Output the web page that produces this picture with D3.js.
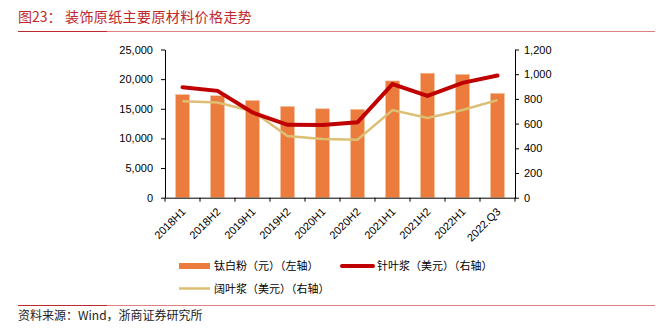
<!DOCTYPE html>
<html><head><meta charset="utf-8">
<script src="https://cdn.jsdelivr.net/npm/d3@7/dist/d3.min.js"></script>
<style>body{margin:0;background:#fff}svg{display:block}</style>
</head><body><svg id="c" width="656" height="329"></svg>
<script>
const categories = ["2018H1","2018H2","2019H1","2019H2","2020H1","2020H2","2021H1","2021H2","2022H1","2022.Q3"];
const titanium = [17400,17200,16400,15400,15000,14900,19700,21000,20800,17600];
const softwood = [895,865,690,590,588,610,920,825,930,990];
const hardwood = [780,770,700,500,475,470,710,645,710,790];
const leftTicks = [0,5000,10000,15000,20000,25000];
const rightTicks = [0,200,400,600,800,1000,1200];
const legendLabels = ["钛白粉（元）（左轴）","针叶浆（美元）（右轴）","阔叶浆（美元）（右轴）"];

const svg = d3.select("#c");
const L = 165, R = 515, T = 49.5, B = 197.7;
const x = d3.scaleBand().domain(categories).range([L, R]).paddingInner(0.6).paddingOuter(0.3);
const xb = d3.scaleBand().domain(categories).range([L, R]);
const yL = d3.scaleLinear().domain([0,25000]).range([B, T]);
const yR = d3.scaleLinear().domain([0,1200]).range([B, T]);
const font = "'Liberation Sans', Arial, sans-serif";
const cjk = "'Noto Sans CJK SC', sans-serif";

// title
svg.append("text").attr("x",18).attr("y",22).attr("fill","#C0282D").attr("font-family",cjk).attr("font-size",14).text("图23：");
svg.append("text").attr("x",65).attr("y",22).attr("fill","#C0282D").attr("font-family",cjk).attr("font-size",14).attr("letter-spacing",0.4).text("装饰原纸主要原材料价格走势");
svg.append("line").attr("x1",18).attr("x2",655).attr("y1",31.5).attr("y2",31.5).attr("stroke","#E08080").attr("stroke-width",1);
svg.append("line").attr("x1",18).attr("x2",107).attr("y1",31.5).attr("y2",31.5).attr("stroke","#C0282D").attr("stroke-width",1.2);

// bars
svg.append("g").selectAll("rect").data(titanium).join("rect")
  .attr("x",(d,i)=>x(categories[i])).attr("width",x.bandwidth())
  .attr("y",d=>yL(d)).attr("height",d=>B-yL(d))
  .attr("fill","#EB7C3D").attr("stroke","#F6C3A0").attr("stroke-width",0.6);

// axes
const gl = svg.append("g").attr("transform",`translate(${L},0)`)
  .call(d3.axisLeft(yL).tickValues(leftTicks).tickSize(4).tickPadding(8).tickFormat(d3.format(",")).tickSizeOuter(0));
const gr = svg.append("g").attr("transform",`translate(${R},0)`)
  .call(d3.axisRight(yR).tickValues(rightTicks).tickSize(4).tickPadding(5).tickFormat(d3.format(",")).tickSizeOuter(0));
const gx = svg.append("g").attr("transform",`translate(0,${B})`)
  .call(d3.axisBottom(xb).tickSize(0).tickSizeOuter(0).tickFormat(""));
// category boundary ticks
svg.append("g").selectAll("line").data(categories.concat([null])).join("line")
  .attr("x1",(d,i)=>L+i*xb.step()).attr("x2",(d,i)=>L+i*xb.step())
  .attr("y1",B).attr("y2",B+4).attr("stroke","#000").attr("stroke-width",1);
[gl,gr,gx].forEach(g=>{
  g.selectAll("path,line").attr("stroke","#000");
  g.selectAll("text").attr("font-family",font).attr("font-size",11).attr("fill","#000");
});
svg.append("g").selectAll("text").data(categories).join("text")
  .attr("transform",d=>`translate(${xb(d)+xb.bandwidth()/2+1},${B+12}) rotate(-45)`)
  .attr("text-anchor","end").attr("dy","0.35em")
  .attr("font-family",font).attr("font-size",11).attr("fill","#000").text(d=>d);

// lines
const lineFn = d3.line().x((d,i)=>xb(categories[i])+xb.bandwidth()/2);
svg.append("path").datum(hardwood).attr("d",lineFn.y(d=>yR(d)))
  .attr("fill","none").attr("stroke","#DDBF74").attr("stroke-width",2.5);
svg.append("path").datum(softwood).attr("d",lineFn.y(d=>yR(d)))
  .attr("fill","none").attr("stroke","#C00000").attr("stroke-width",4).attr("stroke-linecap","round");

// legend
const lg = svg.append("g");
lg.append("rect").attr("x",179).attr("y",263).attr("width",31).attr("height",6).attr("fill","#EB7C3D");
lg.append("text").attr("x",214).attr("y",270).attr("font-family",cjk).attr("font-size",11).attr("fill","#000").text(legendLabels[0]);
lg.append("line").attr("x1",342).attr("x2",373).attr("y1",266).attr("y2",266).attr("stroke","#C00000").attr("stroke-width",4).attr("stroke-linecap","round");
lg.append("text").attr("x",377).attr("y",270).attr("font-family",cjk).attr("font-size",11).attr("fill","#000").text(legendLabels[1]);
lg.append("line").attr("x1",179).attr("x2",210).attr("y1",288.5).attr("y2",288.5).attr("stroke","#DDBF74").attr("stroke-width",2.5);
lg.append("text").attr("x",214).attr("y",292.5).attr("font-family",cjk).attr("font-size",11).attr("fill","#000").text(legendLabels[2]);

// footer
svg.append("line").attr("x1",18).attr("x2",655).attr("y1",305.5).attr("y2",305.5).attr("stroke","#E08080").attr("stroke-width",1);
svg.append("line").attr("x1",18).attr("x2",107).attr("y1",305.5).attr("y2",305.5).attr("stroke","#C0282D").attr("stroke-width",1.2);
svg.append("text").attr("x",18).attr("y",320).attr("font-family",cjk).attr("font-size",12).attr("fill","#222").text("资料来源：Wind，浙商证券研究所");
</script></body></html>
